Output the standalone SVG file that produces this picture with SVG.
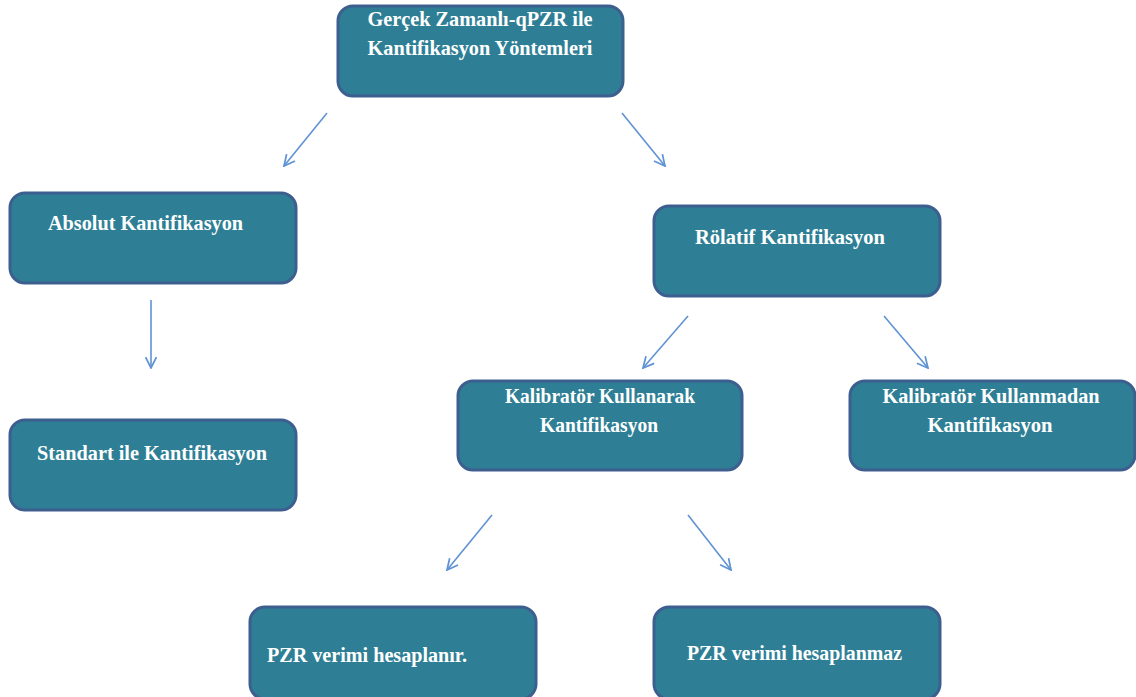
<svg xmlns="http://www.w3.org/2000/svg" width="1136" height="697" viewBox="0 0 1136 697">
<defs>
<style>
.box{fill:#2e7f95;stroke:#3d5f90;stroke-width:3}
.t{fill:#ffffff;font-family:"Liberation Serif","DejaVu Serif",serif;font-weight:bold;font-size:22px}
.c{text-anchor:middle}
.con line{stroke:#5f93d3;stroke-width:1.6;fill:none}
</style>
<marker id="ah" viewBox="0 0 12 12" refX="11" refY="6" markerWidth="13" markerHeight="13" markerUnits="userSpaceOnUse" orient="auto">
<path d="M1,1 L11,6 L1,11" fill="none" stroke="#5f93d3" stroke-width="1.6"/>
</marker>
</defs>
<rect width="1136" height="697" fill="#ffffff"/>
<g id="connectors" class="con">
<line x1="327" y1="113" x2="284" y2="166" marker-end="url(#ah)"/>
<line x1="622" y1="113" x2="665" y2="166" marker-end="url(#ah)"/>
<line x1="151" y1="300" x2="151" y2="368" marker-end="url(#ah)"/>
<line x1="688" y1="316" x2="643" y2="368" marker-end="url(#ah)"/>
<line x1="884" y1="316" x2="928" y2="368" marker-end="url(#ah)"/>
<line x1="492" y1="515" x2="447" y2="570" marker-end="url(#ah)"/>
<line x1="688" y1="515" x2="731" y2="570" marker-end="url(#ah)"/>
</g>
<g id="n-root">
<rect class="box" x="338" y="6" width="285" height="90" rx="15"/>
<text class="t c" x="480" y="26" textLength="225" lengthAdjust="spacingAndGlyphs">Gerçek Zamanlı-qPZR ile</text>
<text class="t c" x="480" y="55" textLength="225" lengthAdjust="spacingAndGlyphs">Kantifikasyon Yöntemleri</text>
</g>
<g id="n-absolut">
<rect class="box" x="10" y="193" width="286" height="90" rx="15"/>
<text class="t" x="48" y="230" textLength="195" lengthAdjust="spacingAndGlyphs">Absolut Kantifikasyon</text>
</g>
<g id="n-standart">
<rect class="box" x="10" y="420" width="286" height="90" rx="15"/>
<text class="t" x="37" y="460" textLength="230" lengthAdjust="spacingAndGlyphs">Standart ile Kantifikasyon</text>
</g>
<g id="n-rolatif">
<rect class="box" x="654" y="206" width="286" height="90" rx="15"/>
<text class="t" x="695" y="244" textLength="190" lengthAdjust="spacingAndGlyphs">Rölatif Kantifikasyon</text>
</g>
<g id="n-kalibrator-kullanarak">
<rect class="box" x="458" y="381" width="284" height="89" rx="15"/>
<text class="t c" x="600" y="403" textLength="190" lengthAdjust="spacingAndGlyphs">Kalibratör Kullanarak</text>
<text class="t c" x="599" y="432" textLength="118" lengthAdjust="spacingAndGlyphs">Kantifikasyon</text>
</g>
<g id="n-kalibrator-kullanmadan">
<rect class="box" x="850" y="381" width="285" height="89" rx="15"/>
<text class="t c" x="991" y="403" textLength="217" lengthAdjust="spacingAndGlyphs">Kalibratör Kullanmadan</text>
<text class="t c" x="990" y="432" textLength="125" lengthAdjust="spacingAndGlyphs">Kantifikasyon</text>
</g>
<g id="n-pzr-hesaplanir">
<rect class="box" x="250" y="607" width="286" height="92" rx="15"/>
<text class="t" x="267" y="662" textLength="200" lengthAdjust="spacingAndGlyphs">PZR verimi hesaplanır.</text>
</g>
<g id="n-pzr-hesaplanmaz">
<rect class="box" x="654" y="607" width="286" height="92" rx="15"/>
<text class="t" x="687" y="660" textLength="215" lengthAdjust="spacingAndGlyphs">PZR verimi hesaplanmaz</text>
</g>
</svg>
